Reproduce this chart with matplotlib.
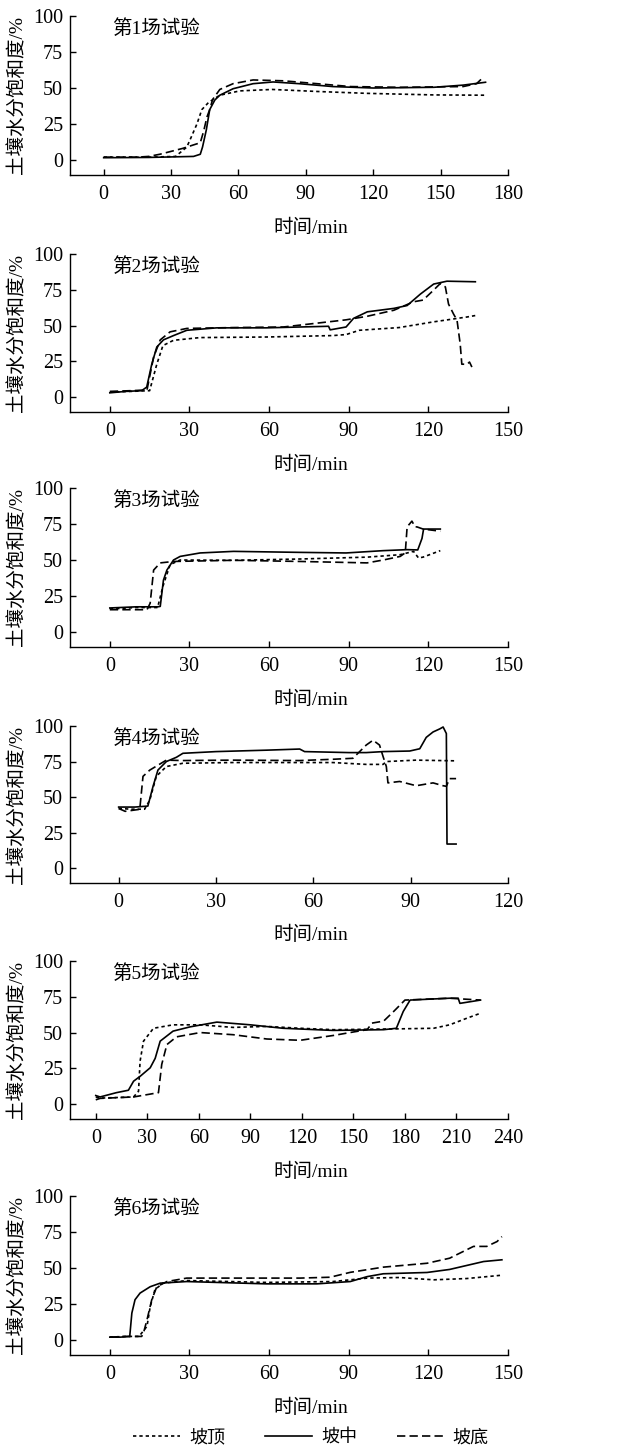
import matplotlib
matplotlib.use('Agg')
import matplotlib.pyplot as plt

plt.rcParams['font.family'] = ['Liberation Serif', 'Noto Sans CJK SC', 'DejaVu Sans']
plt.rcParams['axes.unicode_minus'] = False

# series names
names = ['坡顶', '坡中', '坡底']
titles = ['第1场试验', '第2场试验', '第3场试验', '第4场试验', '第5场试验', '第6场试验']
xmax = [180, 150, 150, 120, 240, 150]

# --- run 1 ---
t1_top = [0, 20, 32, 37, 39, 41.5, 43.7, 46.7, 51.7, 60.6, 75, 95, 117, 147, 170]
s1_top = [2, 2, 2.5, 9, 16, 25, 35, 40, 45, 48, 49, 47.6, 46.3, 45.2, 45]
t1_mid = [0, 20, 40, 43, 44, 45.7, 47.2, 49.5, 51.7, 57.6, 66.5, 75.4, 87, 102, 120, 147, 160, 170]
s1_mid = [1.6, 1.8, 2.5, 4, 9, 21, 35, 41.7, 45, 49.5, 53, 54.2, 53, 51, 50, 50.5, 52, 54]
t1_bot = [0, 15, 20, 25, 35, 43, 44.5, 46, 47.2, 48.5, 51.7, 57.6, 66.5, 80, 95, 110, 132, 160, 166, 168]
s1_bot = [2, 2, 2.5, 4, 8, 12, 20, 30, 35, 42, 49, 53, 55.6, 55, 53, 51, 50.5, 51, 53, 56]

# --- run 2 ---
t2_top = [0, 8, 15, 17.7, 20, 24, 34, 59, 84, 89, 94, 109, 122, 134.6, 137.7]
s2_top = [3.5, 4, 4.5, 23, 36, 39.7, 41.6, 42, 43, 43.7, 46.7, 48.6, 52.6, 56, 57]
t2_mid = [0, 6, 12, 13.9, 15.8, 17.7, 20.2, 24, 29, 40.3, 59, 71.7, 82.4, 83, 89, 91.8, 97,
          107, 112, 117, 122, 127, 137.7]
s2_mid = [3, 4, 4.5, 7, 23, 35, 40, 43, 46.7, 48.4, 48.4, 49, 49.5, 47, 49, 55, 59.6,
          62, 64, 72, 79, 81, 80.6]
t2_bot = [0, 8, 14, 16.5, 19, 22.7, 29, 46.6, 65.4, 84.3, 89, 97, 107, 114.4, 118, 122, 124.5,
          126.4, 127.6, 129.5, 130.8, 132, 132.6, 134.6, 135.5, 136.4]
s2_bot = [4, 4.5, 5, 28, 40, 45.6, 48, 48.6, 49, 53, 54, 56.5, 60.7, 66.6, 67.8, 74.8, 79.4,
          77, 65, 58, 53.7, 37, 23, 23, 24.5, 21]

# --- run 3 ---
t3_top = [0, 10, 18, 20, 22.7, 26.5, 46.6, 71.7, 97, 109.4, 114.4, 116.3, 118, 124.5]
s3_top = [16, 17, 17, 31.7, 46.8, 50, 49.8, 50.7, 52, 53.7, 56, 51.4, 52, 56.5]
t3_mid = [0, 10, 18, 19, 20.2, 21.5, 24, 26.5, 34, 46.6, 71.7, 89, 103, 112, 116, 117.6, 118.2, 124.5]
s3_mid = [16.7, 17.5, 17.5, 17.8, 36, 43, 50, 52.5, 54.9, 56, 55.3, 54.9, 56.5, 57.2, 57, 65, 71.5, 71.5]
t3_bot = [0, 8, 14, 15.2, 16.5, 19, 24, 46.6, 71.7, 96.9, 103, 109.4, 111.3, 112, 113.8, 115,
          115.7, 118, 124.5]
s3_bot = [15.5, 15.5, 15.5, 20, 43, 48, 49, 49.8, 49, 48, 50, 52.5, 55, 73, 77, 73, 73, 71.5, 70]

# --- run 4 ---
t4_top = [0, 4, 8, 9.6, 11.6, 14.7, 19.8, 35, 55.8, 66, 76.3, 81.5, 82.5, 91.7, 104]
s4_top = [42, 41.5, 41.5, 48, 64.6, 71.5, 73.8, 74.3, 74.3, 74.3, 73, 73, 75, 76, 75.5]
t4_mid = [0, 5, 9, 10.6, 12.1, 14.7, 17.8, 19.8, 30, 45.5, 55.8, 57.3, 71, 76.3, 81.5, 89.7,
          92.8, 94.8, 96.9, 99, 100, 101, 101.2, 104]
s4_mid = [43, 43, 43.7, 57.6, 69, 75, 78, 80.8, 82, 83, 83.8, 82, 81.3, 81.3, 82, 82.4,
          84, 92, 95.8, 98, 99.3, 94.7, 17, 17]
t4_bot = [0, 2, 6.5, 7.5, 9.6, 14.7, 19.8, 35, 55.8, 66, 72.2, 76.3, 78.4, 80.4, 81.5, 82.5,
          83, 86.6, 91.7, 96.9, 100, 101, 102, 104]
s4_bot = [42, 40, 41.4, 64.6, 69, 76, 75.7, 76, 75.7, 76.6, 77.3, 86.6, 90, 86.6, 78.5, 71.5,
          60, 61, 58, 60, 58, 57.6, 63, 63]

# --- run 5 ---
t5_top = [0, 2.5, 22, 24.9, 25.8, 27.8, 33.6, 45, 60.8, 80, 99.6, 119, 138.5, 177, 196.7, 206, 216, 224]
s5_top = [5, 4.2, 5, 9, 30, 44, 53, 55.4, 55.4, 53.6, 54.3, 53, 52, 52.6, 53, 55.4, 60, 63.5]
t5_mid = [0, 2.5, 12, 19, 22, 26, 31.7, 34.6, 37.5, 45, 55, 70.5, 90, 109, 138, 167.6, 175,
          179, 183, 206, 211, 212, 224]
s5_mid = [6, 5, 8, 9.7, 16, 19.6, 25.4, 32, 44, 51, 54, 57.3, 55.4, 53, 51.5, 52, 53,
          64.7, 72.7, 74, 74, 70.4, 72.7]
t5_bot = [0, 2.5, 22, 31.7, 36.5, 38.4, 41.4, 47, 60.8, 80, 99.6, 119, 138.5, 148, 158, 160.8,
          167.6, 173.4, 180, 206, 224]
s5_bot = [3, 4, 5, 7, 8, 27.7, 41.6, 47, 50, 48.5, 45.5, 44.6, 48, 50, 52, 56.6,
          58, 64.7, 72.7, 74, 72.7]

# --- run 6 ---
t6_top = [0, 6, 11, 14, 15.2, 17, 20, 29, 59, 84, 97, 109, 122, 134.5, 147.7]
s6_top = [2, 2.5, 2.5, 9.5, 23, 35, 39.5, 41.3, 40, 40.6, 43, 43.4, 41.8, 42.7, 45]
t6_mid = [0, 4, 7.5, 8.3, 9.5, 11.4, 15.2, 19, 29, 59, 78, 90.6, 96.9, 103, 119.5, 128, 140.8, 147.7]
s6_mid = [2, 2, 2.5, 18.7, 28, 32.6, 37, 39.5, 40.6, 39, 39, 40.6, 44, 46, 46.9, 49, 54.5, 55.7]
t6_bot = [0, 6, 12, 12.7, 14, 15.8, 17.7, 21.5, 29, 71.7, 83, 90.6, 103, 119.5, 128, 137, 142,
          145.9, 147.7]
s6_bot = [2, 2.5, 2.5, 5, 14, 28, 37, 40.6, 43, 43, 43.6, 47, 50.6, 53.3, 56.8, 65, 65,
          68.4, 71.8]

runs = [
	[(t1_top, s1_top), (t1_mid, s1_mid), (t1_bot, s1_bot)],
	[(t2_top, s2_top), (t2_mid, s2_mid), (t2_bot, s2_bot)],
	[(t3_top, s3_top), (t3_mid, s3_mid), (t3_bot, s3_bot)],
	[(t4_top, s4_top), (t4_mid, s4_mid), (t4_bot, s4_bot)],
	[(t5_top, s5_top), (t5_mid, s5_mid), (t5_bot, s5_bot)],
	[(t6_top, s6_top), (t6_mid, s6_mid), (t6_bot, s6_bot)],
]

styles = [(0, (2, 1.8)), '-', (0, (5, 2.5))]

W, H = 632, 1448
fig = plt.figure(figsize=(W / 100, H / 100), dpi=100)

# pixel layout of each panel: top (y=100) and x-axis line
tops = [16, 254, 488, 726, 961, 1196]
bots = [175, 412, 647, 883, 1119, 1355]
left_px, right_px = 70, 508

lines = []
for i in range(6):
	ax = fig.add_axes([left_px / W, 1 - bots[i] / H, (right_px - left_px) / W,
	                   (bots[i] - tops[i]) / H])
	for (t, s), ls in zip(runs[i], styles):
		ln, = ax.plot(t, s, color='black', lw=1.2, linestyle=ls)
		if i == 0:
			lines.append(ln)
	ax.set_xlim(-15, xmax[i])
	ax.set_ylim(-10.4, 100)
	ax.set_xticks(range(0, xmax[i] + 1, 30))
	ax.set_yticks([0, 25, 50, 75, 100])
	ax.spines['top'].set_visible(False)
	ax.spines['right'].set_visible(False)
	for sp in ('left', 'bottom'):
		ax.spines[sp].set_linewidth(1.0)
	ax.tick_params(direction='in', length=4, width=1.0, labelsize=14.5)
	ax.tick_params(axis='x', pad=7)
	ax.tick_params(axis='y', pad=5)
	ax.text(0.096, 0.918, titles[i], transform=ax.transAxes, fontsize=14,
	        ha='left', va='center')
	ax.set_ylabel('土壤水分饱和度/%', fontsize=14, va='center')
	ax.yaxis.set_label_coords(-0.123, 0.5)
	ax.set_xlabel('时间/min', fontsize=14, va='center')
	ax.xaxis.set_label_coords(0.55, -(228 - 175) / 159)

fig.legend(lines, names, loc='center', bbox_to_anchor=(311 / W, 1 - 1438 / H),
           ncol=3, frameon=False, fontsize=13, handlelength=2.6,
           handletextpad=0.5, columnspacing=2.2)

fig.savefig('out.png', dpi=100)
